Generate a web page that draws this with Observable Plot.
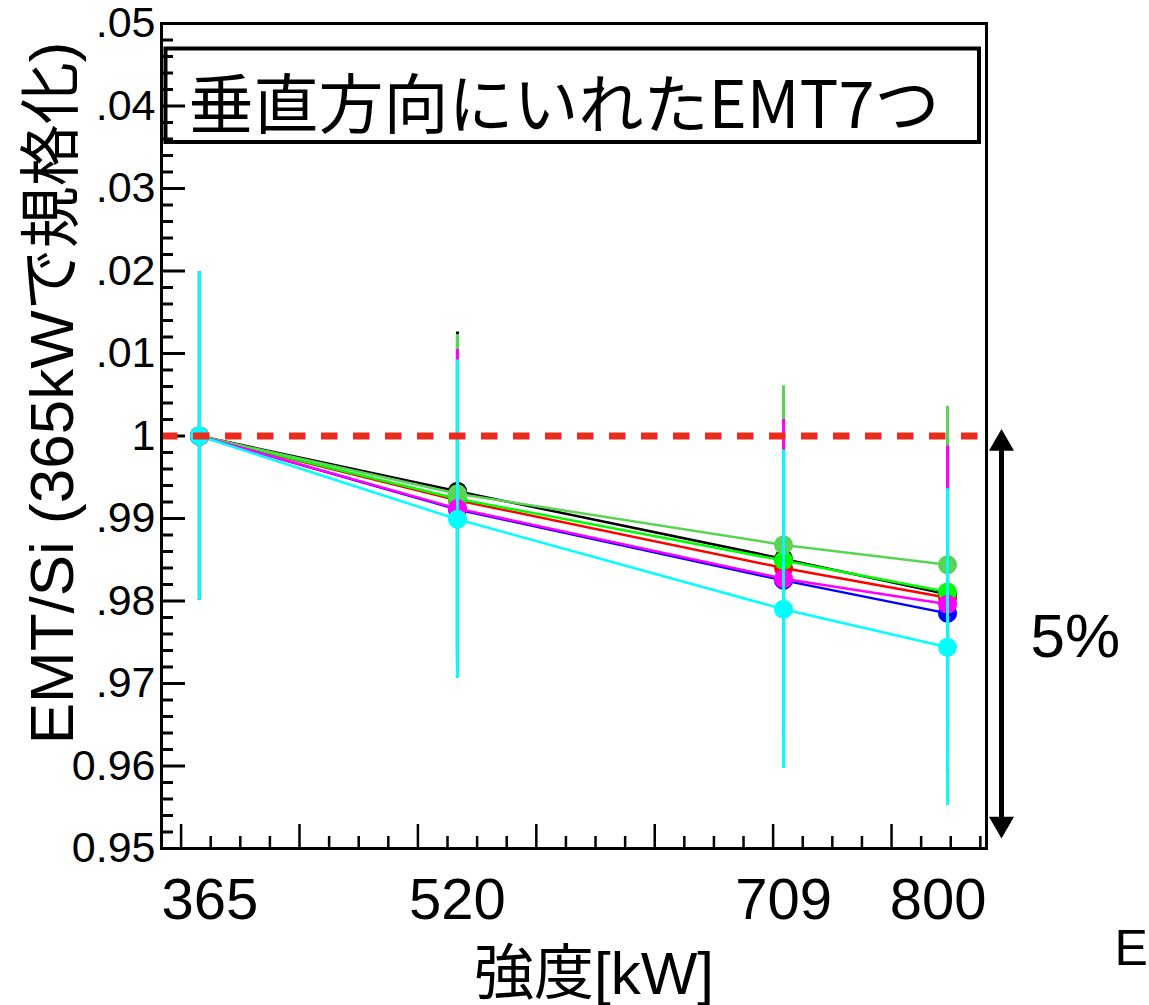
<!DOCTYPE html>
<html>
<head>
<meta charset="utf-8">
<script src="https://cdn.jsdelivr.net/npm/d3@7"></script>
<script src="https://cdn.jsdelivr.net/npm/@observablehq/plot@0.6"></script>
<style>
  body { margin: 0; background: #fff; }
  #chart { width: 1149px; height: 1005px; }
</style>
</head>
<body>
<div id="chart"></div>
<script>
// Laser power settings (tick labels) and where each sits on the frame's linear scale
const powerLabels = ["365", "520", "709", "800"];
const axisPos = [0.155, 2.334, 5.088, 6.473];
const xDomain = [-0.1655, 6.802];

// EMT/Si ratio normalised to the 365 kW run, one array per EMT
const emtBlack     = [1, 0.9933, 0.9851, 0.9808];
const emtRed       = [1, 0.9922, 0.9840, 0.9804];
const emtGreen     = [1, 0.9924, 0.9849, 0.9811];
const emtBlue      = [1, 0.9911, 0.9825, 0.9785];
const emtLightGreen= [1, 0.9930, 0.9868, 0.9844];
const emtMagenta   = [1, 0.9912, 0.9827, 0.9796];
const emtCyan      = [1, 0.9899, 0.9790, 0.9744];

// statistical error on the ratio at each power
const ratioError = [0.0199, 0.0193, 0.0193, 0.0192];

const seriesColors = ["#000000", "#ff0000", "#00ff00", "#0000ff", "#59d454", "#ff00ff", "#00ffff"];
const seriesValues = [emtBlack, emtRed, emtGreen, emtBlue, emtLightGreen, emtMagenta, emtCyan];

// axis ticks
const yMajorTicks = [0.95, 0.96, 0.97, 0.98, 0.99, 1.00, 1.01, 1.02, 1.03, 1.04, 1.05];
const yTickLabels = ["0.95", "0.96", ".97", ".98", ".99", "1", ".01", ".02", ".03", ".04", ".05"];
const yMinorTicks = d3.range(476, 525).filter(k => k % 5 !== 0).map(k => k / 500);
const xMajorTicks = [0, 1, 2, 3, 4, 5, 6];
const xMinorTicks = d3.range(1, 28).filter(k => k % 4 !== 0).map(k => k / 4);

// annotation: the 5 % span from 1.00 down to 0.95
const spanTop = 1.00, spanBottom = 0.95;
const spanLabel = "5%";

const titleText = "垂直方向にいれたEMT7つ";
const yTitle = "EMT/Si (365kWで規格化)";
const xTitle = "強度[kW]";

const rows = seriesValues.map((vals, s) =>
  vals.map((v, i) => ({x: axisPos[i], y: v, lo: v - ratioError[i], hi: v + ratioError[i], color: seriesColors[s]}))
);

const latin = '"Liberation Sans", "Noto Sans CJK JP", sans-serif';
const cjk = '"Noto Sans CJK JP", sans-serif';
const labelFmt = new Map(yMajorTicks.map((t, i) => [Math.round(t * 100), yTickLabels[i]]));

const seriesMarks = rows.flatMap(data => [
  Plot.ruleX(data, {x: "x", y1: "lo", y2: "hi", stroke: "color", strokeWidth: 3}),
  Plot.line(data, {x: "x", y: "y", stroke: "color", strokeWidth: 2.5}),
  Plot.dot(data, {x: "x", y: "y", fill: "color", r: 9.5})
]);

const chart = Plot.plot({
  width: 1149,
  height: 1005,
  marginLeft: 161,
  marginRight: 163,
  marginTop: 23,
  marginBottom: 157,
  x: {domain: xDomain, axis: null},
  y: {domain: [0.95, 1.05]},
  style: {fontFamily: latin, background: "white", color: "black", overflow: "visible"},
  marks: [
    // inward ticks on the left and bottom edges
    Plot.ruleY(yMinorTicks, {stroke: "black", strokeWidth: 3, insetRight: 813}),
    Plot.ruleY(yMajorTicks, {stroke: "black", strokeWidth: 3, insetRight: 801}),
    Plot.ruleX(xMinorTicks, {stroke: "black", strokeWidth: 2.5, insetTop: 813}),
    Plot.ruleX(xMajorTicks, {stroke: "black", strokeWidth: 2.5, insetTop: 801}),
    Plot.axisY({
      ticks: yMajorTicks, tickSize: 0, tickPadding: 6, fontSize: 43, label: null,
      tickFormat: d => labelFmt.get(Math.round(d * 100))
    }),
    // power labels under the frame; end labels kept inside the frame width
    Plot.text([powerLabels[0]], {frameAnchor: "bottom-left", textAnchor: "start", lineAnchor: "top", dy: 29, fontSize: 58}),
    Plot.text(powerLabels.slice(1, 3), {x: (d, i) => axisPos[i + 1], frameAnchor: "bottom", lineAnchor: "top", dy: 29, fontSize: 58}),
    Plot.text([powerLabels[3]], {frameAnchor: "bottom-right", textAnchor: "end", lineAnchor: "top", dy: 29, fontSize: 58}),
    ...seriesMarks,
    Plot.ruleY([1], {stroke: "#ee2a1c", strokeWidth: 7, strokeDasharray: "16.5,15.5"}),
    Plot.frame({stroke: "black", strokeWidth: 3}),
    // titles
    Plot.text([yTitle], {frameAnchor: "left", textAnchor: "middle", rotate: -90, lineAnchor: "bottom", dx: -89, dy: -43, fontSize: 62}),
    Plot.text([xTitle], {frameAnchor: "bottom", textAnchor: "middle", lineAnchor: "bottom", dx: 20, dy: 145, fontSize: 60}),
    Plot.text(["E"], {frameAnchor: "bottom-right", textAnchor: "start", lineAnchor: "bottom", dx: 128, dy: 116, fontSize: 50}),
    Plot.text([titleText], {frameAnchor: "top-left", textAnchor: "start", lineAnchor: "bottom", dx: 27, dy: 104, fontSize: 65, fontFamily: cjk}),
    // double-headed arrow marking the 5 % span
    Plot.ruleX([xDomain[1]], {y1: spanTop, y2: spanBottom, dx: 15, insetBottom: 22, stroke: "black", strokeWidth: 5}),
    Plot.dot([spanTop], {x: xDomain[1], y: d => d, symbol: "triangle", r: 9.3, fill: "black", dx: 15, dy: 7.4}),
    Plot.dot([spanBottom], {x: xDomain[1], y: d => d, symbol: "triangle", rotate: 180, r: 9.3, fill: "black", dx: 15, dy: -24.4}),
    Plot.text([spanLabel], {frameAnchor: "right", textAnchor: "start", lineAnchor: "bottom", dx: 44, dy: 221, fontSize: 62})
  ]
});

// white box with a heavy border behind the title line
d3.select(chart).insert("rect", ":first-child")
  .attr("x", 165.5).attr("y", 48.5)
  .attr("width", 813.5).attr("height", 93.5)
  .attr("fill", "white").attr("stroke", "black").attr("stroke-width", 4);
d3.select(chart).insert("rect", ":first-child")
  .attr("width", 1149).attr("height", 1005).attr("fill", "white");

document.getElementById("chart").append(chart);
</script>
</body>
</html>
